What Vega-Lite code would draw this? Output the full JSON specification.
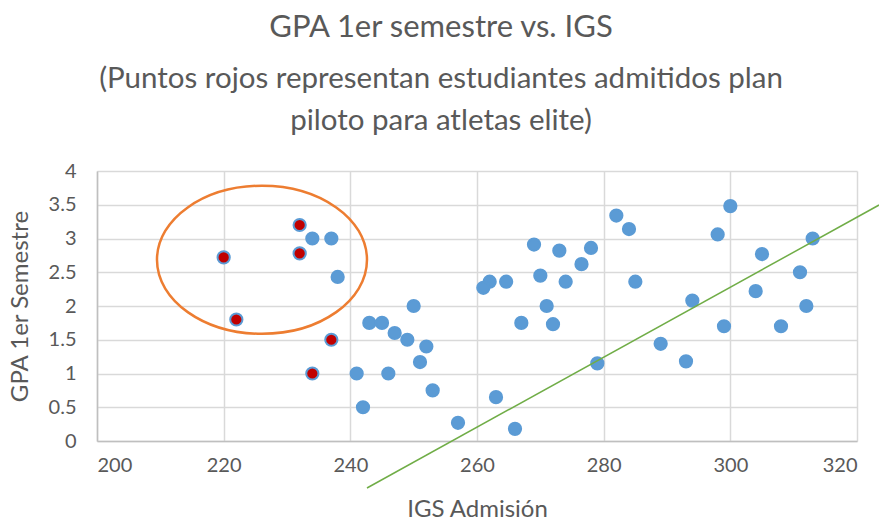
{
  "$schema": "https://vega.github.io/schema/vega-lite/v6.json",
  "width": 760,
  "height": 270,
  "autosize": "none",
  "padding": {"left": 97, "top": 171, "right": 22, "bottom": 81},
  "background": "white",
  "config": {"font": "Lato", "view": {"stroke": null}},
  "title": {
    "text": "GPA 1er semestre vs. IGS",
    "subtitle": ["(Puntos rojos representan estudiantes admitidos plan", "piloto para atletas elite)"],
    "font": "Lato",
    "subtitleFont": "Lato",
    "fontSize": 31,
    "fontWeight": "normal",
    "color": "#595959",
    "subtitleColor": "#595959",
    "subtitleFontSize": 29.5,
    "subtitleLineHeight": 42,
    "subtitlePadding": 21,
    "anchor": "middle",
    "dx": -36,
    "offset": 25
  },
  "encoding": {
    "x": {
      "field": "igs", "type": "quantitative",
      "scale": {"domain": [200, 320], "nice": false, "zero": false},
      "axis": {
        "values": [200, 220, 240, 260, 280, 300, 320],
        "tickCount": 20,
        "labelOverlap": false,
        "grid": true, "gridColor": "#d9d9d9", "gridWidth": 1.5,
        "domainColor": "#bfbfbf", "domainWidth": 1.5,
        "ticks": false,
        "labelFontSize": 20, "labelColor": "#595959", "labelPadding": 14,
        "title": "IGS Admisión", "titleFontSize": 24, "titleFontWeight": "normal", "titleColor": "#595959",
        "titleBaseline": "alphabetic", "titleY": 75, "titleX": 380
      }
    },
    "y": {
      "field": "gpa", "type": "quantitative",
      "scale": {"domain": [0, 4], "nice": false, "zero": false},
      "axis": {
        "values": [0, 0.5, 1, 1.5, 2, 2.5, 3, 3.5, 4],
        "tickCount": 20,
        "format": "~g",
        "labelOverlap": false,
        "grid": true, "gridColor": "#d9d9d9", "gridWidth": 1.5,
        "domainColor": "#bfbfbf", "domainWidth": 1.5,
        "ticks": false,
        "labelFontSize": 20, "labelColor": "#595959", "labelPadding": 21,
        "title": "GPA 1er Semestre", "titleFontSize": 24, "titleFontWeight": "normal", "titleColor": "#595959",
        "titleBaseline": "alphabetic", "titleX": -70, "titleY": 135
      }
    }
  },
  "layer": [
    {
      "data": {
        "values": [
          {"igs": 234, "gpa": 3.0, "grupo": "regular"},
          {"igs": 237, "gpa": 3.0, "grupo": "regular"},
          {"igs": 238, "gpa": 2.43, "grupo": "regular"},
          {"igs": 250, "gpa": 2.0, "grupo": "regular"},
          {"igs": 243, "gpa": 1.75, "grupo": "regular"},
          {"igs": 245, "gpa": 1.75, "grupo": "regular"},
          {"igs": 247, "gpa": 1.6, "grupo": "regular"},
          {"igs": 249, "gpa": 1.5, "grupo": "regular"},
          {"igs": 252, "gpa": 1.4, "grupo": "regular"},
          {"igs": 251, "gpa": 1.17, "grupo": "regular"},
          {"igs": 241, "gpa": 1.0, "grupo": "regular"},
          {"igs": 246, "gpa": 1.0, "grupo": "regular"},
          {"igs": 253, "gpa": 0.75, "grupo": "regular"},
          {"igs": 242, "gpa": 0.5, "grupo": "regular"},
          {"igs": 282, "gpa": 3.34, "grupo": "regular"},
          {"igs": 284, "gpa": 3.14, "grupo": "regular"},
          {"igs": 300, "gpa": 3.48, "grupo": "regular"},
          {"igs": 298, "gpa": 3.06, "grupo": "regular"},
          {"igs": 313, "gpa": 3.0, "grupo": "regular"},
          {"igs": 269, "gpa": 2.91, "grupo": "regular"},
          {"igs": 273, "gpa": 2.82, "grupo": "regular"},
          {"igs": 278, "gpa": 2.86, "grupo": "regular"},
          {"igs": 276.5, "gpa": 2.62, "grupo": "regular"},
          {"igs": 305, "gpa": 2.77, "grupo": "regular"},
          {"igs": 262, "gpa": 2.36, "grupo": "regular"},
          {"igs": 261, "gpa": 2.27, "grupo": "regular"},
          {"igs": 264.6, "gpa": 2.36, "grupo": "regular"},
          {"igs": 270, "gpa": 2.45, "grupo": "regular"},
          {"igs": 274, "gpa": 2.36, "grupo": "regular"},
          {"igs": 285, "gpa": 2.36, "grupo": "regular"},
          {"igs": 311, "gpa": 2.5, "grupo": "regular"},
          {"igs": 304, "gpa": 2.22, "grupo": "regular"},
          {"igs": 271, "gpa": 2.0, "grupo": "regular"},
          {"igs": 312, "gpa": 2.0, "grupo": "regular"},
          {"igs": 267, "gpa": 1.75, "grupo": "regular"},
          {"igs": 272, "gpa": 1.73, "grupo": "regular"},
          {"igs": 299, "gpa": 1.7, "grupo": "regular"},
          {"igs": 308, "gpa": 1.7, "grupo": "regular"},
          {"igs": 294, "gpa": 2.08, "grupo": "regular"},
          {"igs": 289, "gpa": 1.44, "grupo": "regular"},
          {"igs": 293, "gpa": 1.18, "grupo": "regular"},
          {"igs": 279, "gpa": 1.15, "grupo": "regular"},
          {"igs": 263, "gpa": 0.65, "grupo": "regular"},
          {"igs": 257, "gpa": 0.27, "grupo": "regular"},
          {"igs": 266, "gpa": 0.18, "grupo": "regular"},
          {"igs": 232, "gpa": 3.2, "grupo": "elite"},
          {"igs": 220, "gpa": 2.72, "grupo": "elite"},
          {"igs": 232, "gpa": 2.78, "grupo": "elite"},
          {"igs": 222, "gpa": 1.8, "grupo": "elite"},
          {"igs": 237, "gpa": 1.5, "grupo": "elite"},
          {"igs": 234, "gpa": 1.0, "grupo": "elite"}
        ]
      },
      "mark": {"type": "point", "shape": "circle", "filled": true, "opacity": 1, "size": 150, "stroke": "#5b9bd5", "strokeWidth": 2},
      "encoding": {
        "fill": {
          "field": "grupo", "type": "nominal",
          "scale": {"domain": ["regular", "elite"], "range": ["#5b9bd5", "#c00000"]},
          "legend": null
        }
      }
    },
    {
      "data": {"values": [{"igs": 226.05, "gpa": 2.685}]},
      "mark": {
        "type": "point",
        "shape": "M -1 0 C -1 -0.3893 -0.5523 -0.705 0 -0.705 C 0.5523 -0.705 1 -0.3893 1 0 C 1 0.3893 0.5523 0.705 0 0.705 C -0.5523 0.705 -1 0.3893 -1 0 Z",
        "size": 44100,
        "filled": false,
        "stroke": "#ed7d31",
        "strokeWidth": 2.5,
        "opacity": 1
      },
      "encoding": {}
    },
    {
      "data": {"values": [{"igs": 242.63, "gpa": -0.696}, {"igs": 323.48, "gpa": 3.496}]},
      "mark": {"type": "line", "color": "#70ad47", "strokeWidth": 1.5},
      "encoding": {}
    }
  ]
}
